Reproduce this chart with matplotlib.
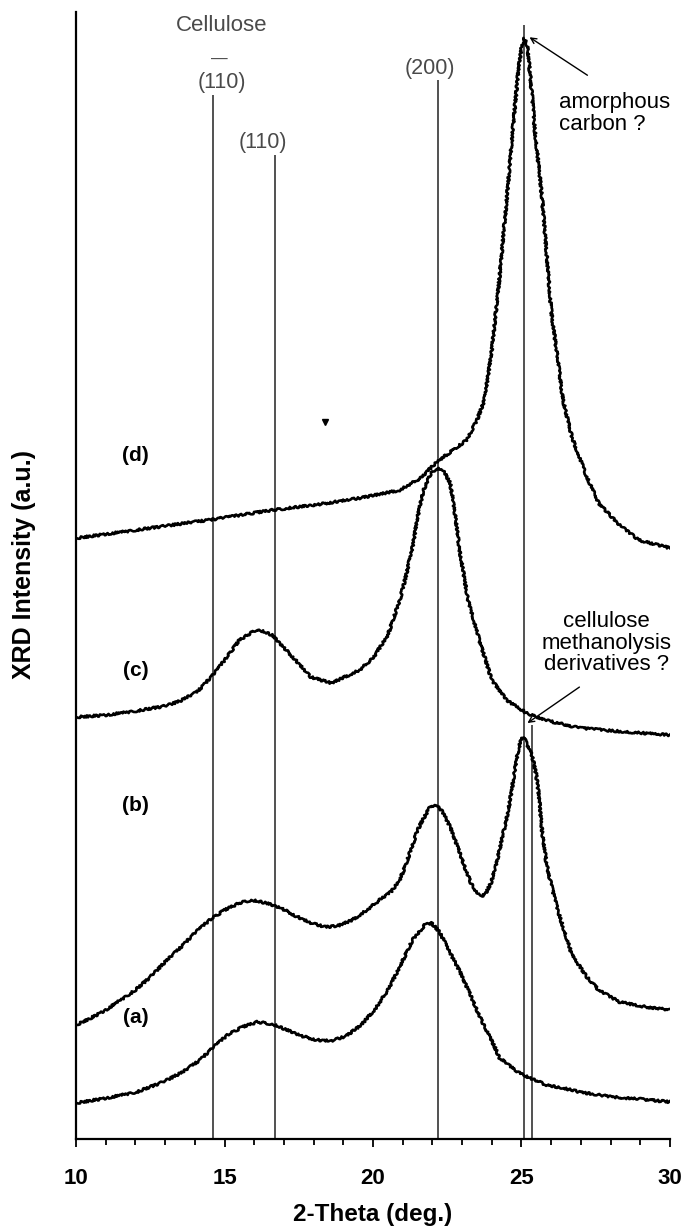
import numpy as np
import matplotlib.pyplot as plt
from matplotlib.ticker import MultipleLocator

plt.rcParams['font.family'] = ['Liberation Sans', 'DejaVu Sans']

# 2-theta positions (deg) and stacked intensities (a.u.) of the four patterns
two_theta_a = [10, 11.04, 12.05, 12.93, 13.6, 14.17, 14.6, 15.1, 15.6, 16.1, 16.6, 17.1, 17.6, 18.1,
               18.6, 19.1, 19.6, 20.1, 20.5, 20.9, 21.33, 21.74, 21.97, 22.24, 22.6, 22.9, 23.25,
               23.6, 24.1, 24.26, 24.93, 25.27, 25.84, 26.4, 26.95, 28.06, 28.96, 30]
intensity_a = [36, 41, 47, 57, 67, 79, 91, 104, 112, 117, 115, 109, 103, 99,
               98, 103, 114, 131, 149, 172, 199, 214, 216, 207, 186, 169, 146,
               122, 92, 81, 66, 61, 54, 51, 47, 42, 40, 37]

two_theta_b = [10, 10.5, 11, 11.5, 12, 12.5, 13, 13.5, 14, 14.5, 15, 15.5, 15.9, 16.4, 16.9, 17.4,
               17.9, 18.4, 18.8, 19.3, 19.8, 20.3, 20.6, 20.9, 21.1, 21.33, 21.5, 21.67, 21.9,
               22.14, 22.35, 22.6, 22.8, 22.97, 23.15, 23.3, 23.5, 23.65, 23.8, 23.97, 24.1,
               24.26, 24.45, 24.6, 24.75, 24.86, 24.97, 25.07, 25.2, 25.35, 25.5, 25.6, 25.7,
               25.85, 26.04, 26.2, 26.4, 26.7, 27.2, 27.6, 28.3, 29.2, 30]
intensity_b = [114, 121, 129, 139, 149, 162, 177, 191, 206, 219, 229, 236, 239, 236, 231, 223,
               216, 212, 213, 219, 229, 241, 247, 259, 274, 294, 309, 319, 331,
               334, 327, 312, 296, 282, 267, 256, 246, 242, 246, 256, 269,
               289, 314, 336, 364, 384, 399, 402, 394, 384, 364, 339, 306,
               274, 249, 231, 212, 184, 162, 149, 137, 132, 129]

two_theta_c = [10, 11, 12, 13, 13.5, 14.07, 14.67, 15.08, 15.5, 16.1, 16.6, 17.3, 17.9, 18.6,
               19.55, 20.0, 20.5, 20.9, 21.1, 21.33, 21.5, 21.7, 21.95, 22.17, 22.4, 22.6, 22.75,
               22.9, 23.2, 23.58, 24.0, 24.5, 25.17, 25.8, 26.95, 28.6, 30]
intensity_c = [422, 424, 428, 433, 438, 447, 466, 482, 499, 510, 504, 482, 462, 456,
               469, 481, 504, 539, 562, 592, 622, 649, 666, 671, 667, 656, 628,
               592, 539, 499, 459, 439, 426, 419, 411, 407, 404]

two_theta_d = [10, 12, 14.67, 16.6, 18, 19.55, 20.9, 21.6, 22.14, 22.6, 23.15, 23.5, 23.75, 24.0,
               24.25, 24.5, 24.75, 24.9, 25.0, 25.1, 25.2, 25.3, 25.45, 25.7, 26.0, 26.4, 26.7,
               27.2, 27.6, 28.3, 28.96, 30]
intensity_d = [601, 609, 620, 629, 634, 641, 649, 661, 677, 687, 699, 719, 739, 789,
               859, 939, 1024, 1070, 1092, 1101, 1093, 1062, 1009, 939, 829, 739, 702,
               662, 636, 614, 599, 591]

pattern_labels = ['(a)', '(b)', '(c)', '(d)']
label_heights = [121, 334, 469, 684]

# reference reflections: cellulose (1-10), (110), (200) and the two ~25 deg features
ref_positions = [14.6, 16.7, 22.2, 25.1, 25.35]
ref_tops = [1044, 984, 1059, 1114, 414]

fig = plt.figure(figsize=(6.88, 12.26), dpi=100)
ax = fig.add_axes([0.1105, 0.071, 0.8633, 0.919])

for pos, top in zip(ref_positions, ref_tops):
    ax.vlines(pos, 0, top, color='#333333', lw=1.2, zorder=1)

# noisy-looking traces
for xs, ys in [(two_theta_a, intensity_a), (two_theta_b, intensity_b),
               (two_theta_c, intensity_c), (two_theta_d, intensity_d)]:
    line, = ax.plot(xs, ys, color='black', lw=1.9, zorder=2)
    line.set_sketch_params(scale=1.1, length=3, randomness=6)

for lab, h in zip(pattern_labels, label_heights):
    ax.text(12.0, h, lab, fontsize=15, fontweight='bold', ha='center', va='center')

# small speck near the (d) label
ax.plot([18.37], [717], marker='v', ms=4, color='black')

grey = '#4a4a4a'
ax.text(14.91, 1114, 'Cellulose', fontsize=16, color=grey, ha='center', va='center')
ax.text(14.91, 1057, '(110)', fontsize=15.5, color=grey, ha='center', va='center')
ax.text(14.84, 1080, '\u2014', fontsize=12, color=grey, ha='center', va='center')
ax.text(16.3, 997, '(110)', fontsize=15.5, color=grey, ha='center', va='center')
ax.text(21.9, 1071, '(200)', fontsize=15.5, color=grey, ha='center', va='center')

ax.text(26.27, 1026, 'amorphous\ncarbon ?', fontsize=16, ha='left', va='center', linespacing=1.05)
ax.annotate('', xy=(25.27, 1102), xytext=(27.22, 1064),
            arrowprops=dict(arrowstyle='->', color='black', lw=1.0, shrinkA=0, shrinkB=0))

ax.text(27.85, 496, 'cellulose\nmethanolysis\nderivatives ?', fontsize=16, ha='center',
        va='center', multialignment='center', linespacing=1.05)
ax.annotate('', xy=(25.2, 416), xytext=(26.95, 452),
            arrowprops=dict(arrowstyle='->', color='black', lw=1.0, shrinkA=0, shrinkB=0))

ax.set_xlim(10, 30)
ax.set_ylim(0, 1127)
ax.xaxis.set_major_locator(MultipleLocator(5))
ax.xaxis.set_minor_locator(MultipleLocator(1))
ax.tick_params(axis='x', which='major', direction='out', length=6, width=1.3,
               labelsize=16, pad=15)
ax.tick_params(axis='x', which='minor', direction='out', length=4.5, width=1.3)
for t in ax.get_xticklabels():
    t.set_fontweight('bold')
ax.set_yticks([])
ax.spines['top'].set_visible(False)
ax.spines['right'].set_visible(False)
ax.spines['left'].set_linewidth(1.6)
ax.spines['bottom'].set_linewidth(1.6)

ax.set_xlabel('2-Theta (deg.)', fontsize=17.5, fontweight='bold', labelpad=10)
ax.set_ylabel('XRD Intensity (a.u.)', fontsize=18, fontweight='bold')
ax.yaxis.set_label_coords(-0.068, 0.51)

fig.savefig('out.png', dpi=100)
